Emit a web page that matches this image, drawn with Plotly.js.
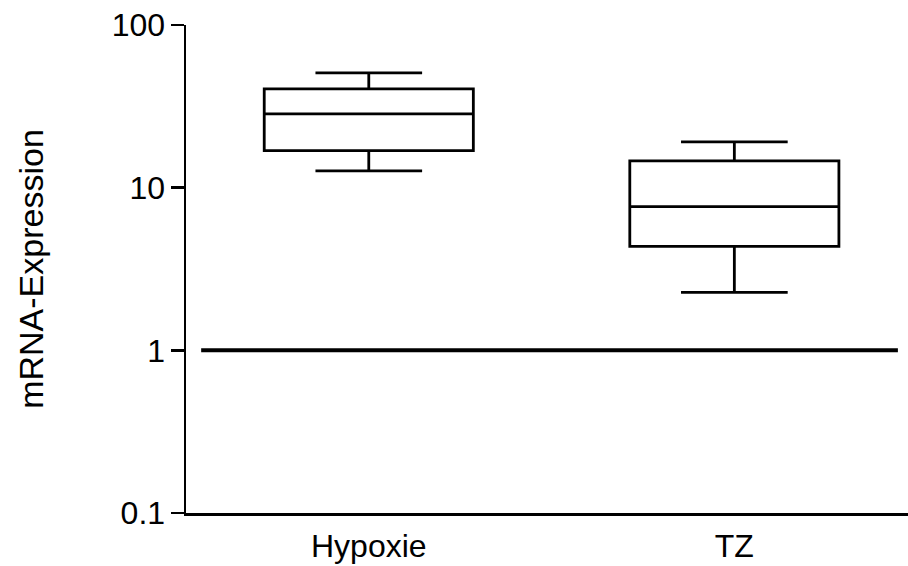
<!DOCTYPE html>
<html>
<head>
<meta charset="utf-8">
<script src="https://cdn.plot.ly/plotly-3.0.1.min.js"></script>
<style>
  html, body { margin: 0; padding: 0; background: #fff; }
  #chart { width: 908px; height: 566px; }
</style>
</head>
<body>
<div id="chart"></div>
<script>
// Groups and their box summaries (fold change, log scale)
const groups = ['Hypoxie', 'TZ'];
const groupPos = [0, 1];
const lowerWhisker = [12.7, 2.27];
const q1 = [16.9, 4.35];
const median = [28.4, 7.64];
const q3 = [40.5, 14.6];
const upperWhisker = [50.8, 19.1];

// Reference level (no change)
const baseline = 1;

// Y axis ticks
const yTickVals = [0.1, 1, 10, 100];
const yTickText = ['0.1', '1', '10', '100'];

const font = 'Liberation Sans, Arial, sans-serif';

const trace = {
  type: 'box',
  x: groupPos,
  q1: q1,
  median: median,
  q3: q3,
  lowerfence: lowerWhisker,
  upperfence: upperWhisker,
  width: 0.572,
  whiskerwidth: 0.51,
  fillcolor: 'rgba(0,0,0,0)',
  line: { color: '#000', width: 2.8 },
  boxpoints: false,
  hoverinfo: 'skip',
  showlegend: false
};

const layout = {
  width: 908,
  height: 566,
  margin: { l: 186, r: 0, t: 25, b: 53 },
  paper_bgcolor: '#fff',
  plot_bgcolor: '#fff',
  font: { family: font, color: '#000', size: 32 },
  showlegend: false,
  xaxis: {
    type: 'linear',
    range: [-0.5, 1.475],
    tickmode: 'array',
    tickvals: groupPos,
    ticktext: groups,
    ticks: '',
    showgrid: false,
    zeroline: false,
    showline: true,
    linecolor: '#000',
    linewidth: 2.5,
    tickfont: { family: font, size: 32, color: '#000' },
    ticklabelstandoff: 3
  },
  yaxis: {
    type: 'log',
    range: [-1, 2],
    tickmode: 'array',
    tickvals: yTickVals,
    ticktext: yTickText,
    ticks: 'outside',
    ticklen: 13,
    tickwidth: 2.5,
    tickcolor: '#000',
    showgrid: false,
    zeroline: false,
    showline: true,
    linecolor: '#000',
    linewidth: 2.5,
    tickfont: { family: font, size: 32, color: '#000' },
    ticklabelstandoff: -1,
    title: { text: 'mRNA-Expression', font: { family: font, size: 34, color: '#000' }, standoff: 58 }
  },
  shapes: [{
    type: 'line',
    xref: 'paper', yref: 'y',
    x0: 0.021, x1: 0.986,
    y0: baseline, y1: baseline,
    line: { color: '#000', width: 4 }
  }]
};

Plotly.newPlot('chart', [trace], layout, { displayModeBar: false, staticPlot: true });
</script>
</body>
</html>
